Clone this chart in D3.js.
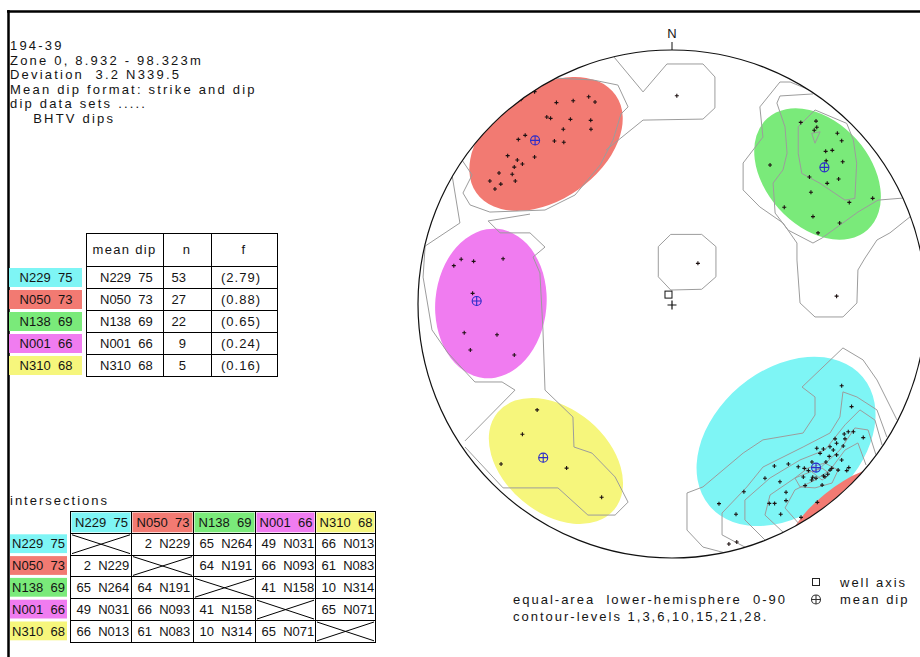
<!DOCTYPE html>
<html lang="en">
<head>
<meta charset="utf-8">
<title>194-39 BHTV dips</title>
<script src="https://cdnjs.cloudflare.com/ajax/libs/d3/7.8.5/d3.min.js"></script>
<style>
  body { margin: 0; background: #fff; }
  svg { display: block; font-family: 'Liberation Sans', Arial, sans-serif; font-size: 13px; }
  text { white-space: pre; fill: #141414; }
  .grid { stroke: #000; stroke-width: 1; fill: none; }
  .contour { fill: none; stroke: #9c9c9c; stroke-width: 1; }
  .loose { letter-spacing: 2px; }
</style>
</head>
<body>
<script>
  // header text
  const headerLines = ['194-39', 'Zone 0, 8.932 - 98.323m', 'Deviation  3.2 N339.5',
    'Mean dip format: strike and dip', 'dip data sets .....', '    BHTV dips'];

  // dip sets
  const setNames = ['N229  75', 'N050  73', 'N138  69', 'N001  66', 'N310  68'];
  const setColors = ['#7ef5f5', '#f27a72', '#7aea7a', '#f07cf0', '#f6f67c'];
  const setCounts = [53, 27, 22, 9, 5];
  const setDensity = [2.79, 0.88, 0.65, 0.24, 0.16];
  const tableHeads = ['mean dip', 'n', 'f'];

  // intersections: plunge and trend
  const interPlunge = [[null, 2, 65, 49, 66], [2, null, 64, 66, 61], [65, 64, null, 41, 10], [49, 66, 41, null, 65], [66, 61, 10, 65, null]];
  const interTrend = [[null, 229, 264, 31, 13], [229, null, 191, 93, 83], [264, 191, null, 158, 314], [31, 93, 158, null, 71], [13, 83, 314, 71, null]];

  // net coords: east, north, radius = 100
  const meanDips = [[56.7, -64.4], [-53.9, 64.4], [60.0, 53.8], [-76.9, 1.2], [-50.7, -60.5]];
  // cones: set, centre east, centre north, semi-axis a, semi-axis b, rotation
  const cones = [
    [0, 44.9, -54.1, 39.4, 28.3, -40],
    [1, -49.6, 63.0, 33.5, 22.0, -35],
    [1, 65.2, -80.9, 23.6, 7.9, -39],
    [2, 57.3, 51.2, 29.5, 20.5, 48],
    [3, -71.3, 0.2, 21.9, 29.5, 5],
    [4, -45.7, -61.8, 29.9, 20.5, 40]
  ];

  const polesN229 = [[66.8, -32.2], [70.7, -40.4], [69.4, -50.3], [71.4, -50.3], [67.8, -51.2], [75.3, -52.6],
    [64.2, -53.1], [68.1, -53.1], [64.8, -54.8], [62.2, -56.2], [67.4, -55.9], [57.0, -56.8], [59.6, -57.1],
    [63.5, -57.5], [64.8, -59.4], [61.9, -60.0], [66.8, -61.4], [69.6, -64.4], [68.8, -65.6], [45.8, -63.0],
    [49.7, -64.1], [52.1, -64.7], [53.7, -65.6], [62.9, -64.7], [61.3, -67.0], [59.6, -67.7], [55.4, -68.2],
    [56.7, -68.6], [55.0, -69.3], [51.7, -68.1], [52.4, -71.5], [60.2, -68.0], [42.5, -70.0], [36.6, -68.6],
    [40.3, -63.8], [28.3, -73.9], [44.9, -74.1], [44.9, -77.4], [38.3, -78.5], [40.4, -78.5], [57.2, -78.1],
    [18.5, -78.6], [25.2, -82.8], [42.8, -82.8], [50.8, -84.0], [22.4, -94.5], [25.5, -93.7], [58.3, -58.8],
    [55.1, -62.2], [60.6, -62.2], [65.4, -65.4], [59.1, -71.3], [62.2, -65.4]];
  const polesN050 = [[-54.1, 83.6], [-45.5, 79.3], [-38.9, 80.0], [-32.8, 81.6], [-30.3, 79.5], [-49.3, 73.6],
    [-47.8, 73.1], [-40.0, 72.7], [-32.0, 72.3], [-42.8, 68.8], [-31.9, 68.8], [-57.8, 66.4], [-60.5, 64.8],
    [-46.3, 64.2], [-42.6, 63.7], [-54.1, 57.9], [-64.7, 58.4], [-60.9, 56.7], [-58.9, 55.1], [-62.1, 53.9],
    [-68.1, 51.6], [-62.9, 51.1], [-71.7, 48.4], [-61.7, 48.4], [-67.4, 47.2], [-69.7, 45.3], [-59.4, 80.6]];
  const polesN138 = [[50.7, 71.5], [56.7, 72.0], [57.0, 69.6], [56.0, 68.4], [65.1, 67.2], [66.8, 64.3],
    [60.5, 60.1], [63.1, 60.5], [38.6, 54.7], [60.7, 56.4], [67.2, 56.0], [54.1, 50.0], [65.6, 49.2],
    [61.1, 47.5], [54.7, 44.0], [79.0, 41.6], [69.8, 40.0], [44.2, 38.1], [55.5, 34.4], [66.0, 31.9],
    [57.5, 28.0], [64.8, 3.1]];
  const polesN001 = [[-83.0, 17.6], [-78.1, 16.8], [-66.5, 17.8], [-85.9, 15.1], [-78.5, 4.2], [-81.8, -11.3],
    [-68.9, -12.1], [-79.4, -18.1], [-62.1, -20.1]];
  const polesN310 = [[-53.1, -41.7], [-58.9, -51.3], [-67.3, -63.0], [-41.5, -64.6], [-27.7, -76.1]];
  const polesOther = [[1.9, 82.0], [10.2, 16.0]];

  // contour lines (levels 1,3,6,10,15,21,28)
  const openContours = [
    [[-22.8, 97.2], [-11.4, 83.5], [-2.0, 94.5], [12.2, 94.5], [16.9, 89.4], [16.9, 77.2], [12.2, 72.8], [-11.4, 72.4], [-26.0, 60.6]],
    [[-46.9, 89.0], [-31.1, 88.2], [-21.3, 86.2], [-17.3, 77.6], [-20.1, 74.8], [-23.2, 64.6], [-28.3, 54.7], [-38.2, 42.9],
      [-50.0, 37.0], [-71.7, 36.2], [-79.5, 39.0], [-82.3, 43.7], [-78.7, 50.8], [-82.7, 56.7]],
    [[-55.9, 35.4], [-72.4, 32.7], [-67.7, 28.0], [-55.9, 28.0], [-50.0, 22.4], [-54.7, 18.5], [-52.0, 12.2], [-50.8, -10.2],
      [-50.0, -33.9], [-39.0, -44.5], [-38.6, -56.3], [-31.5, -58.7], [-22.4, -68.1], [-17.3, -78.0], [-22.4, -83.1],
      [-33.1, -83.1], [-44.9, -72.4], [-66.5, -72.4], [-81.5, -56.3]],
    [[-86.6, 50.8], [-83.5, 31.9], [-97.2, 22.8], [-98.0, 10.6], [-94.5, -10.2], [-88.2, -19.3], [-77.6, -30.7],
      [-66.9, -30.7], [-61.8, -33.9], [-81.5, -53.9]],
    [[57.1, 83.1], [46.5, 87.4], [42.5, 87.4], [34.6, 77.6], [35.8, 65.7], [28.0, 55.5], [28.0, 44.9], [34.6, 38.2],
      [43.7, 31.9], [49.2, 24.0], [49.2, 17.3], [50.4, 0.4], [56.3, -5.1], [67.3, -5.1], [72.8, 0.4], [73.2, 13.4],
      [76.0, 18.1], [80.7, 25.2], [85.8, 28.0], [93.7, 34.3]],
    [[55.5, 82.7], [42.5, 81.9], [41.3, 79.1], [44.5, 69.7], [45.3, 59.4], [43.7, 52.8], [39.8, 47.6], [40.6, 35.8],
      [45.7, 29.1], [55.5, 24.0], [59.1, 26.0], [73.2, 36.2], [81.1, 40.9], [90.9, 41.7]],
    [[20.9, -98.0], [12.2, -95.7], [5.9, -89.0], [5.9, -74.4], [12.2, -72.0], [28.0, -58.7], [35.8, -53.5], [51.6, -50.8],
      [56.3, -43.7], [56.3, -36.6], [51.2, -32.7], [67.3, -17.3], [75.2, -22.0], [80.7, -29.9], [88.6, -45.7]],
    [[28.7, -95.7], [19.7, -90.9], [19.7, -82.3], [29.5, -72.0], [35.8, -64.2], [51.6, -56.3], [62.2, -50.8], [66.1, -44.5],
      [67.3, -34.6], [72.8, -36.6], [80.7, -41.7], [84.6, -52.4]],
    [[36.6, -92.9], [28.7, -85.0], [28.7, -77.2], [38.6, -68.5], [50.4, -61.4], [60.2, -57.5], [68.1, -47.6], [74.0, -41.7],
      [79.9, -45.7], [82.7, -55.5]],
    [[43.7, -89.8], [36.6, -83.1], [38.6, -75.2], [48.4, -68.5], [58.3, -64.6], [66.1, -57.5], [72.0, -48.8], [77.2, -49.6], [80.3, -59.4]],
    [[50.4, -87.0], [44.5, -80.3], [48.4, -73.2], [56.3, -69.3], [62.2, -65.4], [68.1, -57.5], [73.2, -54.7], [76.4, -63.4]]
  ];
  const closedContours = [
    [[-5.4, 22.6], [-0.5, 27.4], [11.7, 27.4], [17.3, 22.6], [17.3, 10.7], [11.7, 5.8], [-0.5, 5.5], [-5.4, 10.7]],
    [[49.7, 69.8], [56.3, 76.4], [68.8, 71.1], [71.4, 64.6], [72.7, 55.4], [72.0, 41.6], [68.1, 40.9], [58.3, 47.5], [51.1, 51.4], [49.7, 59.3]],
    [[55.0, 67.2], [58.3, 67.8], [56.3, 63.3]],
    [[48.4, -68.5], [53.5, -64.6], [60.2, -62.6], [65.4, -65.4], [63.0, -70.5], [56.3, -72.4], [50.4, -72.0]],
    [[55.1, -66.1], [59.1, -64.6], [62.2, -66.9], [59.1, -69.3]]
  ];

  // well axis: deviation from vertical and its azimuth
  const wellDeviation = 3.2;
  const wellAzimuth = 339.5;

  const legendLines = ['equal-area  lower-hemisphere  0-90', 'contour-levels 1,3,6,10,15,21,28.'];
  const symbolLabels = ['well axis', 'mean dip'];

  // ---------------------------------------------------------------
  const W = 920, H = 657;
  const svg = d3.select('body').append('svg').attr('width', W).attr('height', H);
  svg.append('rect').attr('width', W).attr('height', H).attr('fill', '#fff');

  // frame
  svg.append('line').attr('x1', 7).attr('x2', W).attr('y1', 11.5).attr('y2', 11.5).attr('stroke', '#000').attr('stroke-width', 2.5);
  svg.append('line').attr('x1', 8.5).attr('x2', 8.5).attr('y1', 10).attr('y2', H).attr('stroke', '#000').attr('stroke-width', 2.5);

  svg.append('g').selectAll('text').data(headerLines).join('text')
    .attr('class', 'loose').style('letter-spacing', '2.2px')
    .attr('x', 10).attr('y', (d, i) => 50 + i * 14.6)
    .text(d => d);

  // ---- mean dip table
  const t1Cols = [86, 163, 211, 277];
  const t1Top = 233, t1Head = 33, t1Row = 22;
  const t1 = svg.append('g');
  const rowTop = i => t1Top + t1Head + i * t1Row;
  const t1Bottom = rowTop(setNames.length);

  t1.selectAll('rect').data(setNames).join('rect')
    .attr('x', 9).attr('y', (d, i) => rowTop(i) + 2)
    .attr('width', 73).attr('height', t1Row - 3)
    .attr('fill', (d, i) => setColors[i]);
  t1.selectAll('text.lab').data(setNames).join('text').attr('class', 'lab')
    .attr('x', 46).attr('y', (d, i) => rowTop(i) + 15.5).attr('text-anchor', 'middle')
    .text(d => d);

  const hY = [t1Top].concat(d3.range(setNames.length + 1).map(rowTop));
  t1.selectAll('line.h').data(hY).join('line').attr('class', 'grid h')
    .attr('x1', t1Cols[0]).attr('x2', t1Cols[3]).attr('y1', d => d + 0.5).attr('y2', d => d + 0.5);
  t1.selectAll('line.v').data(t1Cols).join('line').attr('class', 'grid v')
    .attr('x1', d => d + 0.5).attr('x2', d => d + 0.5).attr('y1', t1Top).attr('y2', t1Bottom + 1);

  t1.selectAll('text.head').data(tableHeads).join('text').attr('class', 'head')
    .attr('x', (d, i) => (t1Cols[i] + t1Cols[i + 1]) / 2).attr('y', t1Top + 21)
    .attr('text-anchor', 'middle').style('letter-spacing', '1.3px')
    .text(d => d);
  t1.selectAll('text.md').data(setNames).join('text').attr('class', 'md')
    .attr('x', 100).attr('y', (d, i) => rowTop(i) + 15.5).text(d => d);
  t1.selectAll('text.n').data(setCounts).join('text').attr('class', 'n')
    .attr('x', 186).attr('y', (d, i) => rowTop(i) + 15.5).attr('text-anchor', 'end').text(d => d);
  t1.selectAll('text.f').data(setDensity).join('text').attr('class', 'f')
    .attr('x', 241).attr('y', (d, i) => rowTop(i) + 15.5).attr('text-anchor', 'middle')
    .style('letter-spacing', '1px')
    .text(d => `(${d3.format('.2f')(d)})`);

  // ---- intersections table
  svg.append('text').attr('class', 'loose').attr('x', 10).attr('y', 505).text('intersections');
  const t2Cols = [70, 131, 193, 255, 315, 375];
  const t2Top = 511, t2Row = 21.8;
  const t2 = svg.append('g');
  const r2 = i => t2Top + i * t2Row;

  t2.selectAll('rect.ch').data(setNames).join('rect').attr('class', 'ch')
    .attr('x', (d, i) => t2Cols[i] + 1.5).attr('y', t2Top + 1.5)
    .attr('width', (d, i) => t2Cols[i + 1] - t2Cols[i] - 2).attr('height', t2Row - 2)
    .attr('fill', (d, i) => setColors[i]);
  t2.selectAll('rect.rh').data(setNames).join('rect').attr('class', 'rh')
    .attr('x', 10).attr('y', (d, i) => r2(i + 1) + 1.5)
    .attr('width', 57).attr('height', t2Row - 3)
    .attr('fill', (d, i) => setColors[i]);
  t2.selectAll('text.ch').data(setNames).join('text').attr('class', 'ch')
    .attr('x', (d, i) => (t2Cols[i] + t2Cols[i + 1]) / 2 + 1).attr('y', t2Top + 15.5)
    .attr('text-anchor', 'middle').text(d => d);
  t2.selectAll('text.rh').data(setNames).join('text').attr('class', 'rh')
    .attr('x', 38.5).attr('y', (d, i) => r2(i + 1) + 15.5)
    .attr('text-anchor', 'middle').text(d => d);

  t2.selectAll('line.h').data(d3.range(setNames.length + 2)).join('line').attr('class', 'grid h')
    .attr('x1', t2Cols[0]).attr('x2', t2Cols[5] + 1)
    .attr('y1', i => Math.round(r2(i)) + 0.5).attr('y2', i => Math.round(r2(i)) + 0.5);
  t2.selectAll('line.v').data(t2Cols).join('line').attr('class', 'grid v')
    .attr('x1', d => d + 0.5).attr('x2', d => d + 0.5)
    .attr('y1', t2Top).attr('y2', Math.round(r2(setNames.length + 1)) + 1);

  // pad plunge with a figure space so single digits line up like the original
  const fmtP = d3.format('\u2007>2d'), fmtT = d3.format('03d');
  const cells = [];
  interPlunge.forEach((row, i) => row.forEach((p, j) => cells.push({ i, j, p, t: interTrend[i][j] })));
  t2.selectAll('text.cell').data(cells.filter(c => c.p !== null)).join('text').attr('class', 'cell')
    .attr('x', c => t2Cols[c.j] + 6.5).attr('y', c => r2(c.i + 1) + 15.5)
    .text(c => `${fmtP(c.p)}  N${fmtT(c.t)}`);
  const diag = cells.filter(c => c.p === null);
  t2.selectAll('path.x').data(diag).join('path').attr('class', 'grid x')
    .attr('d', c => {
      const x0 = t2Cols[c.j] + 2, x1 = t2Cols[c.j + 1] - 1;
      const y0 = r2(c.i + 1) + 2, y1 = r2(c.i + 2) - 1;
      return `M${x0},${y0}L${x1},${y1}M${x0},${y1}L${x1},${y0}`;
    });

  // ---- stereonet
  const cx = 672, cy = 304, R = 254;
  const x = d3.scaleLinear().domain([-100, 100]).range([cx - R, cx + R]);
  const y = d3.scaleLinear().domain([-100, 100]).range([cy + R, cy - R]);
  const k = x(1) - x(0);

  svg.append('clipPath').attr('id', 'netclip')
    .append('circle').attr('cx', cx).attr('cy', cy).attr('r', R);
  const net = svg.append('g').attr('clip-path', 'url(#netclip)');

  net.selectAll('ellipse').data(cones).join('ellipse')
    .attr('cx', d => x(d[1])).attr('cy', d => y(d[2]))
    .attr('rx', d => d[3] * k).attr('ry', d => d[4] * k)
    .attr('transform', d => `rotate(${d[5]},${x(d[1])},${y(d[2])})`)
    .attr('fill', d => setColors[d[0]]);

  const line = d3.line().x(d => x(d[0])).y(d => y(d[1]));
  const closed = d3.line().x(d => x(d[0])).y(d => y(d[1])).curve(d3.curveLinearClosed);
  net.selectAll('path.oc').data(openContours).join('path').attr('class', 'contour oc').attr('d', line);
  net.selectAll('path.cc').data(closedContours).join('path').attr('class', 'contour cc').attr('d', closed);

  const allPoles = [].concat(polesN229, polesN050, polesN138, polesN001, polesN310, polesOther);
  net.append('path')
    .attr('d', allPoles.map(p => `M${x(p[0]) - 2},${y(p[1])}h4M${x(p[0])},${y(p[1]) - 2}v4`).join(''))
    .attr('stroke', '#1c1010').attr('stroke-width', 1.1).attr('fill', 'none');

  const meanSym = (g, px, py, col) => {
    g.append('circle').attr('cx', px).attr('cy', py).attr('r', 4.5)
      .attr('fill', 'none').attr('stroke', col).attr('stroke-width', 1.1);
    g.append('path').attr('d', `M${px - 4.5},${py}h9M${px},${py - 4.5}v9`)
      .attr('stroke', col).attr('stroke-width', 1.1);
  };
  meanDips.forEach(m => meanSym(net, x(m[0]), y(m[1]), '#2c2cc8'));

  // well axis (equal-area projection) and centre mark
  const rWell = Math.SQRT2 * Math.sin((wellDeviation / 2) * Math.PI / 180) * 100;
  const wx = x(rWell * Math.sin(wellAzimuth * Math.PI / 180));
  const wy = y(rWell * Math.cos(wellAzimuth * Math.PI / 180));
  svg.append('rect').attr('x', wx - 3.5).attr('y', wy - 3.5).attr('width', 7).attr('height', 7)
    .attr('fill', 'none').attr('stroke', '#111');
  svg.append('path').attr('d', `M${cx - 4.5},${cy + 1}h9M${cx},${cy - 3.5}v9`)
    .attr('stroke', '#111').attr('stroke-width', 1.2);

  svg.append('circle').attr('cx', cx).attr('cy', cy).attr('r', R)
    .attr('fill', 'none').attr('stroke', '#111').attr('stroke-width', 1.2);
  svg.append('line').attr('x1', cx).attr('x2', cx).attr('y1', cy - R).attr('y2', cy - R - 8)
    .attr('stroke', '#111');
  svg.append('text').attr('x', cx).attr('y', 38).attr('text-anchor', 'middle').text('N');

  // ---- legend
  svg.append('g').selectAll('text').data(legendLines).join('text').attr('class', 'loose')
    .attr('x', 513).attr('y', (d, i) => 604 + i * 17).text(d => d);
  svg.append('g').selectAll('text').data(symbolLabels).join('text').attr('class', 'loose')
    .attr('x', 840).attr('y', (d, i) => 587 + i * 17).text(d => d);
  svg.append('rect').attr('x', 812.5).attr('y', 578.5).attr('width', 7).attr('height', 7)
    .attr('fill', 'none').attr('stroke', '#222');
  meanSym(svg, 816, 599.5, '#333');
</script>
</body>
</html>
